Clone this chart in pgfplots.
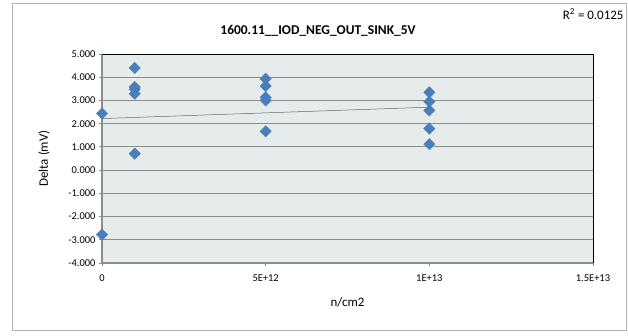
\documentclass[border=0pt]{standalone}
\usepackage{fontspec}
\setmainfont{Carlito}
\usepackage{pgfplots}
\pgfplotsset{compat=1.18}
\definecolor{mk}{HTML}{4A7EBB}
\definecolor{bg}{HTML}{E6ECEC}
\definecolor{gr}{HTML}{8C8C8C}
\begin{document}
\begin{tikzpicture}[x=1bp,y=1bp]
\path[use as bounding box] (0,0) rectangle (628,335);
\draw[color=gray!60, line width=1bp] (12,5) rectangle (626,331);
\begin{axis}[
  at={(102bp,72bp)}, anchor=south west,
  scale only axis, width=491bp, height=209bp,
  xmin=0, xmax=1.5e13, ymin=-4, ymax=5,
  axis background/.style={fill=bg},
  axis line style={draw=none},
  xtick={0,5e12,1e13,1.5e13},
  xticklabels={0,5E+12,1E+13,1.5E+13},
  ytick={-4,-3,...,5},
  yticklabels={-4.000,-3.000,-2.000,-1.000,0.000,1.000,2.000,3.000,4.000,5.000},
  tick label style={font=\fontsize{10.5}{12}\selectfont},
  xticklabel style={yshift=-5bp},
  tick align=outside, tick pos=left,
  major tick length=3bp,
  tick style={gr, line width=0.8bp},
  ymajorgrids, grid style={gr, line width=0.8bp},
  xlabel={n/cm2}, ylabel={Delta (mV)},
  label style={font=\fontsize{13}{15}\selectfont},
  xlabel style={at={(axis description cs:0.5,0)}, anchor=center, yshift=-39bp},
  ylabel style={at={(axis description cs:0,0.5)}, anchor=center, yshift=58bp},
  clip=false,
  scaled x ticks=false,
]
\addplot[only marks, mark=square*, mark options={rotate=45}, mark size=4bp, color=mk, fill=mk] coordinates {
 (0,2.44) (0,-2.78)
 (1e12,4.40) (1e12,3.58) (1e12,3.48) (1e12,3.29) (1e12,0.71)
 (5e12,3.93) (5e12,3.62) (5e12,3.13) (5e12,3.00) (5e12,1.67)
 (1e13,3.35) (1e13,2.95) (1e13,2.57) (1e13,1.79) (1e13,1.12)
};
\addplot[gray!80!black, line width=0.5bp] coordinates {(0,2.22) (1e13,2.71)};
\draw[gr, line width=1.5bp] (axis cs:0,-4) -- (axis cs:0,5);
\draw[gr, line width=1.5bp] (axis cs:0,-4) -- (axis cs:1.5e13,-4);
\draw[black, line width=0.8bp] (axis cs:0,5) -- (axis cs:1.5e13,5) -- (axis cs:1.5e13,-4);
\end{axis}
\node[font=\bfseries\fontsize{13.5}{15}\selectfont] at (318,304) {1600.11\_\_IOD\_NEG\_OUT\_SINK\_5V};
\node[font=\fontsize{13}{15}\selectfont, anchor=east] at (627,321) {R\textsuperscript{2} = 0.0125};
\end{tikzpicture}
\end{document}
